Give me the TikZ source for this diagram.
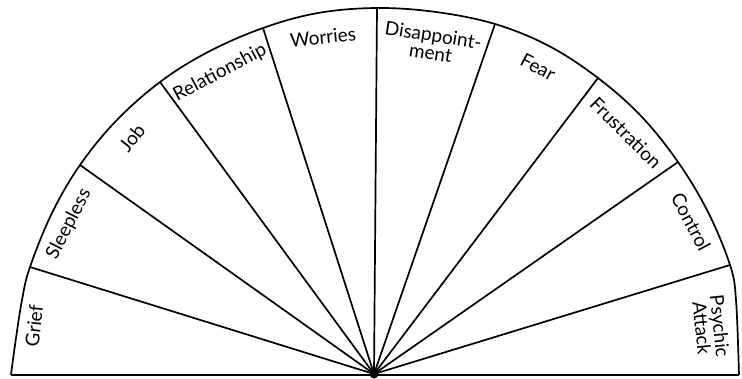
\documentclass[tikz,border=0pt]{standalone}
\usepackage{fontspec}
\setmainfont{Lato}
\begin{document}
\begin{tikzpicture}[x=1pt,y=-1pt,
  ray/.style={line width=1.7pt,black},
  rim/.style={line width=1.7pt,black},
  lbl/.style={font=\fontsize{19}{18}\selectfont,inner sep=0pt,align=center}]
\useasboundingbox (0,0) rectangle (742,378);
% centre and arc points
\coordinate (C) at (374,374);
\coordinate (L0) at (11,375);
\coordinate (P1) at (30,267);
\coordinate (P2) at (80,165);
\coordinate (P3) at (160,82);
\coordinate (P4) at (263,28);
\coordinate (P5) at (377,8);
\coordinate (P6) at (495,24);
\coordinate (P7) at (598,78);
\coordinate (P8) at (678,162);
\coordinate (P9) at (730,265);
\coordinate (R0) at (739,375);
% arc
\draw[rim] plot[smooth,tension=0.6] coordinates {(11,375) (15,345) (22,300) (30,267) (52,213) (80,165) (116,121) (160,82) (208,52) (263,28) (318,13) (377,8) (436,12) (495,24) (549,46) (598,78) (641,116) (678,162) (708,212) (730,265) (736,300) (739,375)};
% rays
\foreach \p in {P1,P2,P3,P4,P5,P6,P7,P8,P9} \draw[ray] (C) -- (\p);
% base line
\draw[line width=2.8pt] (L0) -- (R0);
\fill (C) circle (4.5);
% labels
\node[lbl,rotate=84] (grief) at (34,326) {Grief};
\node[lbl,rotate=63] (sleep) at (69,224) {Sleepless};
\node[lbl,rotate=52] (job) at (132,138) {Job};
\node[lbl,rotate=28] (rel) at (220,73) {Relationship};
\node[lbl,rotate=6] (wor) at (323,37) {Worries};
\node[lbl,rotate=-9] (dis) at (432,44) {Disappoint-\\ment};
\node[lbl,rotate=-28] (fear) at (538,67) {Fear};
\node[lbl,rotate=-45] (fru) at (626,133) {Frustration};
\node[lbl,rotate=-62] (con) at (691,222) {Control};
\node[lbl,rotate=-84] (psy) at (711,327) {Psychic\\Attack};
\end{tikzpicture}
\end{document}
